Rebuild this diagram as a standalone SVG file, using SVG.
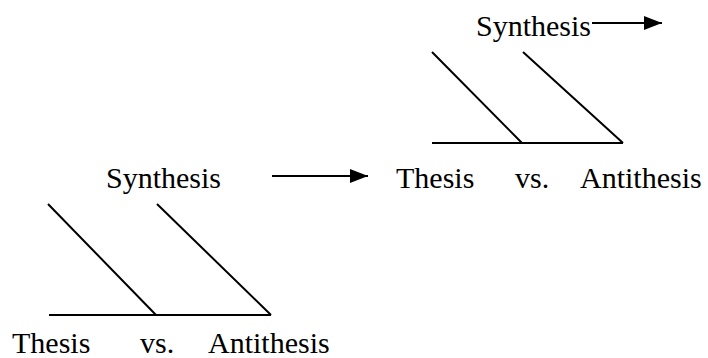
<svg xmlns="http://www.w3.org/2000/svg" width="708" height="358" viewBox="0 0 708 358">
<defs>
<marker id="ah" markerWidth="18" markerHeight="14" refX="18" refY="7" orient="auto" markerUnits="userSpaceOnUse">
<path d="M0,0 L18,7 L0,14 Z" fill="#000"/>
</marker>
<style>
.t{font-family:'Liberation Serif','Times New Roman',serif;font-size:30px;fill:#000}
.ln{stroke:#000;stroke-width:2;fill:none}
</style>
</defs>
<rect width="708" height="358" fill="#fff"/>
<g id="bottom-group">
<text class="t" x="12" y="353">Thesis</text>
<text class="t" x="140" y="353">vs.</text>
<text class="t" x="208" y="353">Antithesis</text>
<path class="ln" d="M49,315 H271 M48,204 L156,315 M157,204 L271,315"/>
</g>
<g id="synthesis-middle">
<text class="t" x="106" y="188">Synthesis</text>
</g>
<g id="top-group">
<text class="t" x="396" y="188">Thesis</text>
<text class="t" x="515" y="188">vs.</text>
<text class="t" x="580" y="188">Antithesis</text>
<path class="ln" d="M432,143 H623 M432,52 L522,143 M523,52 L623,143"/>
</g>
<g id="synthesis-top">
<text class="t" x="476" y="36">Synthesis</text>
</g>
<g id="connectors">
<line class="ln" x1="272" y1="176" x2="368" y2="176" marker-end="url(#ah)"/>
<line class="ln" x1="592" y1="23" x2="662" y2="23" marker-end="url(#ah)"/>
</g>
</svg>
